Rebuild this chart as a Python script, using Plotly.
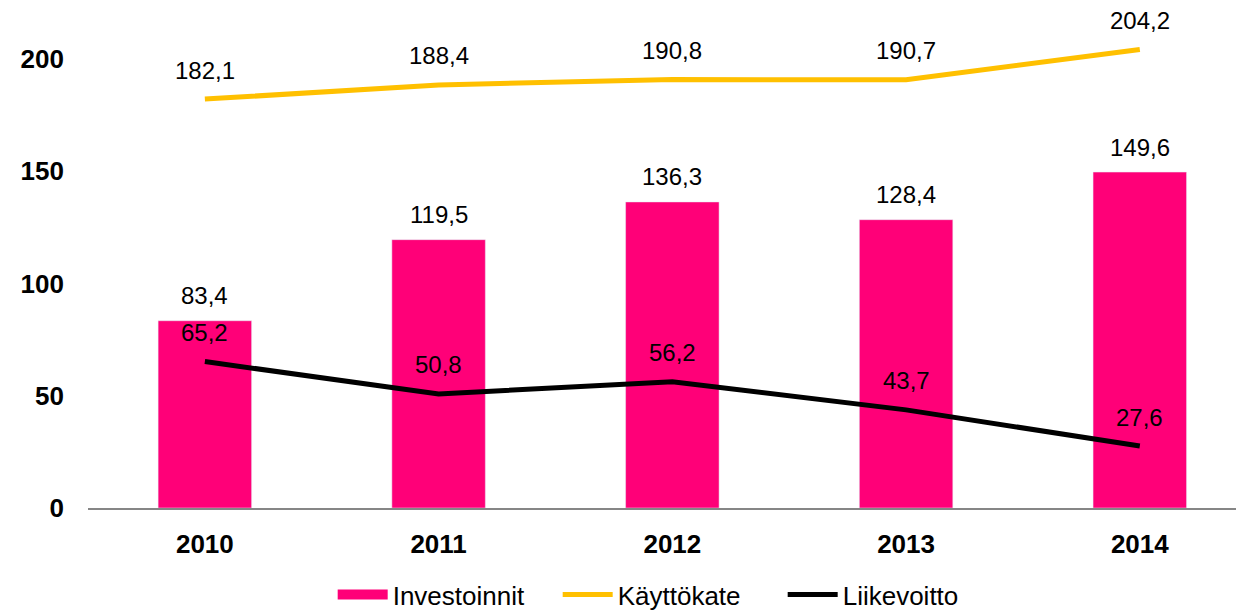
import plotly.graph_objects as go

years = ["2010", "2011", "2012", "2013", "2014"]
investoinnit = [83.4, 119.5, 136.3, 128.4, 149.6]
kayttokate = [182.1, 188.4, 190.8, 190.7, 204.2]
liikevoitto = [65.2, 50.8, 56.2, 43.7, 27.6]

PINK = "#FF0078"
YELLOW = "#FFC000"
FONT = "Liberation Sans, Arial"


def fi(v):
    return f"{v:.1f}".replace(".", ",")


fig = go.Figure()
fig.add_trace(go.Bar(x=years, y=investoinnit, name="Investoinnit",
                     marker_color=PINK, width=0.4, showlegend=False))
# legend entry drawn as a thick bar-like line
fig.add_trace(go.Scatter(x=[None], y=[None], name="Investoinnit", mode="lines",
                         line=dict(color=PINK, width=10)))
fig.add_trace(go.Scatter(x=years, y=kayttokate, name="Käyttökate", mode="lines",
                         line=dict(color=YELLOW, width=5)))
fig.add_trace(go.Scatter(x=years, y=liikevoitto, name="Liikevoitto", mode="lines",
                         line=dict(color="#000000", width=5)))

# data labels (x given as category index)
label_font = dict(family=FONT, size=24, color="#000000")
for series, shift in [(investoinnit, 25), (kayttokate, 29), (liikevoitto, 29)]:
    for i, v in enumerate(series):
        fig.add_annotation(x=i, y=v, xref="x", yref="y", text=fi(v), showarrow=False,
                           yshift=shift, font=label_font)

fig.update_layout(
    width=1244, height=610,
    margin=dict(l=80, r=0, t=17, b=110),
    plot_bgcolor="white", paper_bgcolor="white",
    font=dict(family=FONT, size=24, color="#000000"),
    showlegend=True,
    legend=dict(orientation="h", xref="container", yref="container",
                x=0.261, xanchor="left", y=0.0, yanchor="bottom",
                font=dict(size=26), traceorder="normal", itemwidth=50,
                entrywidth=160),
    bargap=0.6,
)
fig.update_xaxes(type="category", range=[-0.5, 4.48], showline=True,
                 linecolor="#868686", linewidth=2, ticks="", automargin=False,
                 tickfont=dict(size=26, family=FONT, weight="bold"),
                 ticklabelstandoff=12, showgrid=False)
fig.update_yaxes(range=[0, 215.1], tickvals=[0, 50, 100, 150, 200], showgrid=False,
                 zeroline=False, showline=False, ticks="", automargin=False,
                 tickfont=dict(size=26, family=FONT, weight="bold"),
                 ticklabelstandoff=23)

fig.write_html("out.html")
